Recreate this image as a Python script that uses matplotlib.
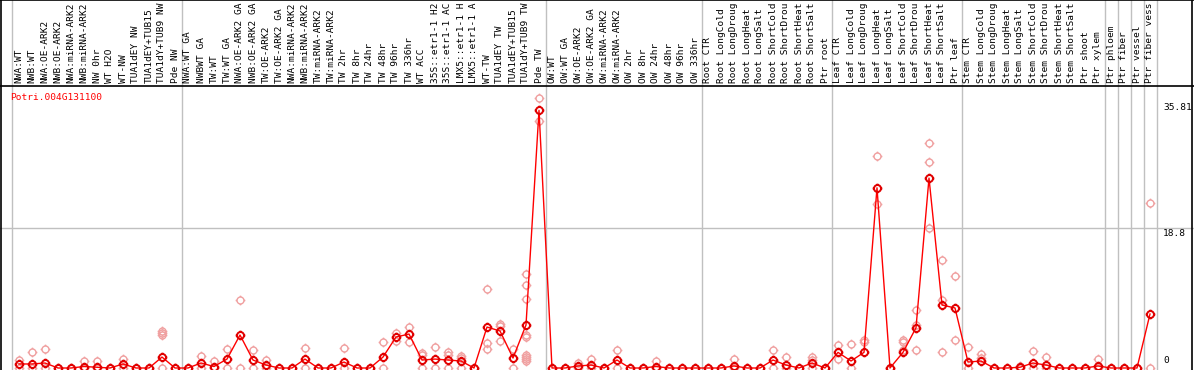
import matplotlib
matplotlib.use("Agg")
import matplotlib.pyplot as plt
from matplotlib.path import Path
import numpy as np

gene = "Potri.004G131100"

# header labels, as far as they show in the chart
labels = [
    "NWA:WT", "NWB:WT", "NWA:OE-ARK2", "NWB:OE-ARK2", "NWA:miRNA-ARK2", "NWB:miRNA-ARK2",
    "NW 0hr", "WT H2O", "WT-NW", "TUA1dEY NW", "TUA1dEY+TUB15", "TUA1dY+TUB9 NW", "Pde NW",
    "NWA:WT GA", "NWBWT GA", "TW:WT", "TW:WT GA", "NWA:OE-ARK2 GA", "NWB:OE-ARK2 GA",
    "TW:OE-ARK2", "TW:OE-ARK2 GA", "NWA:miRNA-ARK2", "NWB:miRNA-ARK2", "TW:miRNA-ARK2",
    "TW:miRNA-ARK2", "TW 2hr", "TW 8hr", "TW 24hr", "TW 48hr", "TW 96hr", "TW 336hr",
    "WT ACC", "35S::etr1-1 H2", "35S::etr1-1 AC", "LMX5::etr1-1 H", "LMX5::etr1-1 A",
    "WT-TW", "TUA1dEY TW", "TUA1dEY+TUB15", "TUA1dY+TUB9 TW", "Pde TW",
    "OW:WT", "OW:WT GA", "OW:OE-ARK2", "OW:OE-ARK2 GA", "OW:miRNA-ARK2", "OW:miRNA-ARK2",
    "OW 2hr", "OW 8hr", "OW 24hr", "OW 48hr", "OW 96hr", "OW 336hr",
    "Root CTR", "Root LongCold", "Root LongDroug", "Root LongHeat", "Root LongSalt",
    "Root ShortCold", "Root ShortDrou", "Root ShortHeat", "Root ShortSalt", "Ptr root",
    "Leaf CTR", "Leaf LongCold", "Leaf LongDroug", "Leaf LongHeat", "Leaf LongSalt",
    "Leaf ShortCold", "Leaf ShortDrou", "Leaf ShortHeat", "Leaf ShortSalt", "Ptr leaf",
    "Stem CTR", "Stem LongCold", "Stem LongDroug", "Stem LongHeat", "Stem LongSalt",
    "Stem ShortCold", "Stem ShortDrou", "Stem ShortHeat", "Stem ShortSalt", "Ptr shoot",
    "Ptr xylem", "Ptr phloem", "Ptr fiber", "Ptr vessel", "Ptr fiber vess",
]

# mean expression per sample
means = [
    0.54, 0.54, 0.67, 0, 0, 0.2, 0.1, 0, 0.54, 0, 0, 1.47, 0,
    0, 0.67, 0.2, 1.2, 4.43, 1.07, 0.4, 0, 0, 1.2, 0, 0, 0.8, 0, 0, 1.47,
    4.16, 4.56, 1.07, 1.2, 1.07, 0.94, 0, 5.5, 4.97, 1.34, 5.77, 34.6,
    0, 0, 0.27, 0.4, 0, 1.07, 0, 0, 0.2, 0, 0, 0,
    0, 0, 0.27, 0, 0, 1.07, 0.4, 0, 0.67, 0,
    2.1, 0.94, 2.1, 24.2, 0, 2.1, 5.4, 25.5, 8.46, 8.06,
    0.8, 0.94, 0, 0, 0.1, 0.67, 0.4, 0, 0, 0, 0.27,
    0, 0, 0, 7.25,
]

# individual replicates
reps = [
    [1.07, 0], [2.1, 0], [2.55, 0], [0], [0], [0.94, 0], [0.94, 0], [0], [1.2, 0], [0], [0],
    [4.97, 4.7, 4.4, 0], [0],
    [0], [1.6, 0], [0.94, 0], [2.55, 0], [9.1, 0], [2.4, 0], [1.07, 0], [0], [0], [2.7, 0],
    [0], [0], [2.7, 0], [0], [0], [3.5, 0], [4.7, 3.6], [5.5, 3.5], [2.0, 1.74, 0],
    [2.8, 0], [2.1, 1.74, 0], [1.6, 1.3, 0], [0], [10.6, 3.36, 2.55], [5.9, 5.6, 3.6],
    [2.55, 0], [12.6, 11.1, 9.26, 4.4, 4.2, 1.74, 1.47, 1.2, 0.94], [36.3, 33.2],
    [0], [0], [0.67, 0], [1.2, 0], [0], [2.4, 0], [0], [0], [0.94, 0], [0], [0], [0],
    [0], [0], [1.2, 0], [0], [0], [2.4, 0], [1.47, 0], [0], [1.47, 1.07, 0], [0],
    [3.1, 1.2], [3.2, 0], [3.76, 3.5], [28.5, 22.0], [0], [3.76, 3.5, 2.4], [7.8, 5.8, 2.4],
    [30.2, 27.7, 18.8], [14.5, 9.1, 2.1], [12.35, 3.76],
    [2.8, 0], [1.9, 1.3], [0], [0], [0.3, 0], [2.3, 0], [1.47, 0], [0], [0], [0], [1.2, 0],
    [0], [0], [0], [22.2, 0],
]

group_breaks = [-0.5, 12.5, 40.5, 52.5, 62.5, 72.5, 83.5, 84.5, 85.5, 86.5, 87.5]
y_ticks = [0, 18.8, 35.81]
tick_text = ["0", "18.8", "35.81"]

W, H = 1194, 370
fig = plt.figure(figsize=(W / 100, H / 100), dpi=100)
ax = fig.add_axes([0, 0, 1, 1])
ax.set_axis_off()

# pixel mapping: column i sits at x = 19 + 13 i, value 0 at y = 368, 18.8 at y = 228
sx = 13.0
sy = 140.0 / 18.8
ax.set_xlim(-19 / sx, (W - 19) / sx)
ax.set_ylim(-(H - 368) / sy, 368 / sy)

def px(x):
    return (x - 19) / sx

def py(y):
    return (368 - y) / sy

mono = "DejaVu Sans Mono"
fs = 6.8

# frame
ax.axhline(py(86), color="black", lw=1.2)
ax.axhline(py(0.5), color="black", lw=1.2)
ax.axvline(px(1), color="black", lw=1.2)
ax.axvline(px(1192), color="black", lw=1.2)
ax.axhline(18.8, color="#c0c0c0", lw=1, zorder=0)
for b in group_breaks:
    ax.axvline(b, color="#c0c0c0", lw=1, zorder=0)

# header labels
for i, lab in enumerate(labels):
    ax.text(i, py(83), lab, rotation=90, ha="center", va="bottom",
            fontsize=fs, family=mono, color="black")

ax.text(px(10), py(97), gene, ha="left", va="center", fontsize=fs, family=mono, color="red")

for v, t in zip(y_ticks, tick_text):
    if v == 0:
        ax.annotate(t, (px(1163), v), xytext=(0, 3), textcoords="offset pixels",
                    ha="left", va="bottom", fontsize=fs, family=mono)
    else:
        ax.annotate(t, (px(1163), v), xytext=(0, -1.5), textcoords="offset pixels",
                    ha="left", va="top", fontsize=fs, family=mono)

# circle marker with small crosshair ticks
circ = Path.unit_circle()
ticks = []
for a, b in [((0, 1), (0, 1.4)), ((0, -1), (0, -1.4)), ((1, 0), (1.4, 0)), ((-1, 0), (-1.4, 0))]:
    ticks.append(Path([a, b], [Path.MOVETO, Path.LINETO]))
marker = Path.make_compound_path(circ, *ticks)

x = np.arange(len(labels))
for i, r in enumerate(reps):
    ax.plot([i] * len(r), r, linestyle="none", marker=marker, ms=7, mfc="none",
            mec="#f0a0a0", mew=1.0, zorder=2, clip_on=False)

ax.plot(x, means, color="red", lw=1.0, zorder=3)
ax.plot(x, means, linestyle="none", marker=marker, ms=7, mfc="none",
        mec="#e00000", mew=1.4, zorder=4)

fig.savefig("out.png", dpi=100)
